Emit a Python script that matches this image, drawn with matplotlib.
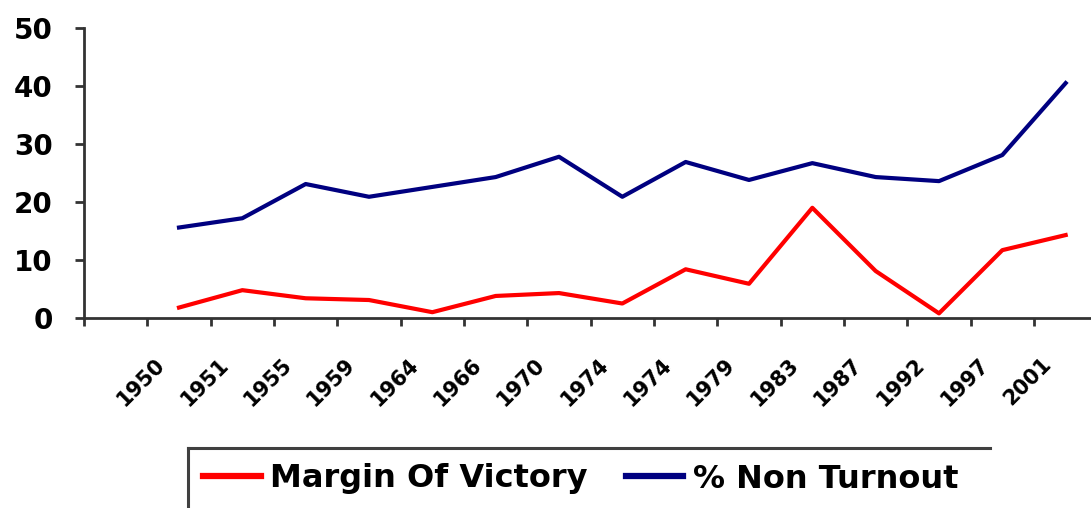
import matplotlib

matplotlib.use("Agg")
import matplotlib.pyplot as plt
from matplotlib.lines import Line2D
from matplotlib.transforms import ScaledTranslation

# UK general elections (two in 1974)
years = ["1950", "1951", "1955", "1959", "1964", "1966", "1970", "1974",
         "1974", "1979", "1983", "1987", "1992", "1997", "2001"]
margin_of_victory = [1.8, 4.8, 3.4, 3.1, 1.0, 3.8, 4.3, 2.5,
                     8.4, 5.9, 19.0, 8.1, 0.8, 11.7, 14.3]
non_turnout = [15.6, 17.2, 23.1, 20.9, 22.6, 24.3, 27.8, 20.9,
               26.9, 23.8, 26.7, 24.3, 23.6, 28.1, 40.5]
y_ticks = [0, 10, 20, 30, 40, 50]

W, H = 1091, 508
AXIS_COLOR = "#333333"


def draw():
    fig = plt.figure(figsize=(W / 100, H / 100), dpi=100)
    ax = fig.add_axes([84 / W, (H - 318) / H, (W - 84) / W, 290 / H])

    x = list(range(len(years)))
    ax.plot(x, margin_of_victory, color="#ff0000", lw=3.0, label="Margin Of Victory")
    ax.plot(x, non_turnout, color="#000080", lw=3.0, label="% Non Turnout")

    ax.set_xlim(-1.47, 14.4)
    ax.set_ylim(0, 50)

    for side in ["top", "right"]:
        ax.spines[side].set_visible(False)
    for side in ["left", "bottom"]:
        ax.spines[side].set_color(AXIS_COLOR)
        ax.spines[side].set_linewidth(2)

    # y axis
    ax.set_yticks(y_ticks)
    ax.set_yticklabels([str(v) for v in y_ticks], fontsize=20, fontweight="bold")
    ax.tick_params(axis="y", length=6.5, width=2, color=AXIS_COLOR, pad=16)

    # x axis: labels at categories, tick marks between them
    ax.set_xticks(x)
    ax.set_xticklabels(years, rotation=45, ha="right", fontsize=15, fontweight="bold")
    ax.tick_params(axis="x", which="major", length=0, pad=26)
    ax.set_xticks([i - 0.5 for i in range(-1, len(years))], minor=True)
    ax.tick_params(axis="x", which="minor", length=6, width=2, color=AXIS_COLOR)
    shift = ScaledTranslation(-10 / 100, 0, fig.dpi_scale_trans)
    for lab in ax.get_xticklabels():
        lab.set_transform(lab.get_transform() + shift)

    # legend, with the box border (top + left edges visible)
    leg = fig.legend(
        handles=ax.get_lines(),
        loc="center left",
        bbox_to_anchor=(203 / W, 1 - 479 / H),
        ncol=2,
        frameon=False,
        borderpad=0,
        borderaxespad=0,
        handlelength=1.8,
        handletextpad=0.3,
        columnspacing=1.2,
        prop={"size": 23, "weight": "bold"},
    )
    for h in leg.legend_handles:
        h.set_linewidth(4.5)
    fig.add_artist(Line2D([188 / W, 990 / W], [1 - 448 / H, 1 - 448 / H],
                          color="#404040", lw=2.2))
    fig.add_artist(Line2D([188 / W, 188 / W], [1 - 448 / H, 0],
                          color="#404040", lw=2.2))

    fig.savefig("out.png", dpi=100)


if __name__ == "__main__":
    draw()
